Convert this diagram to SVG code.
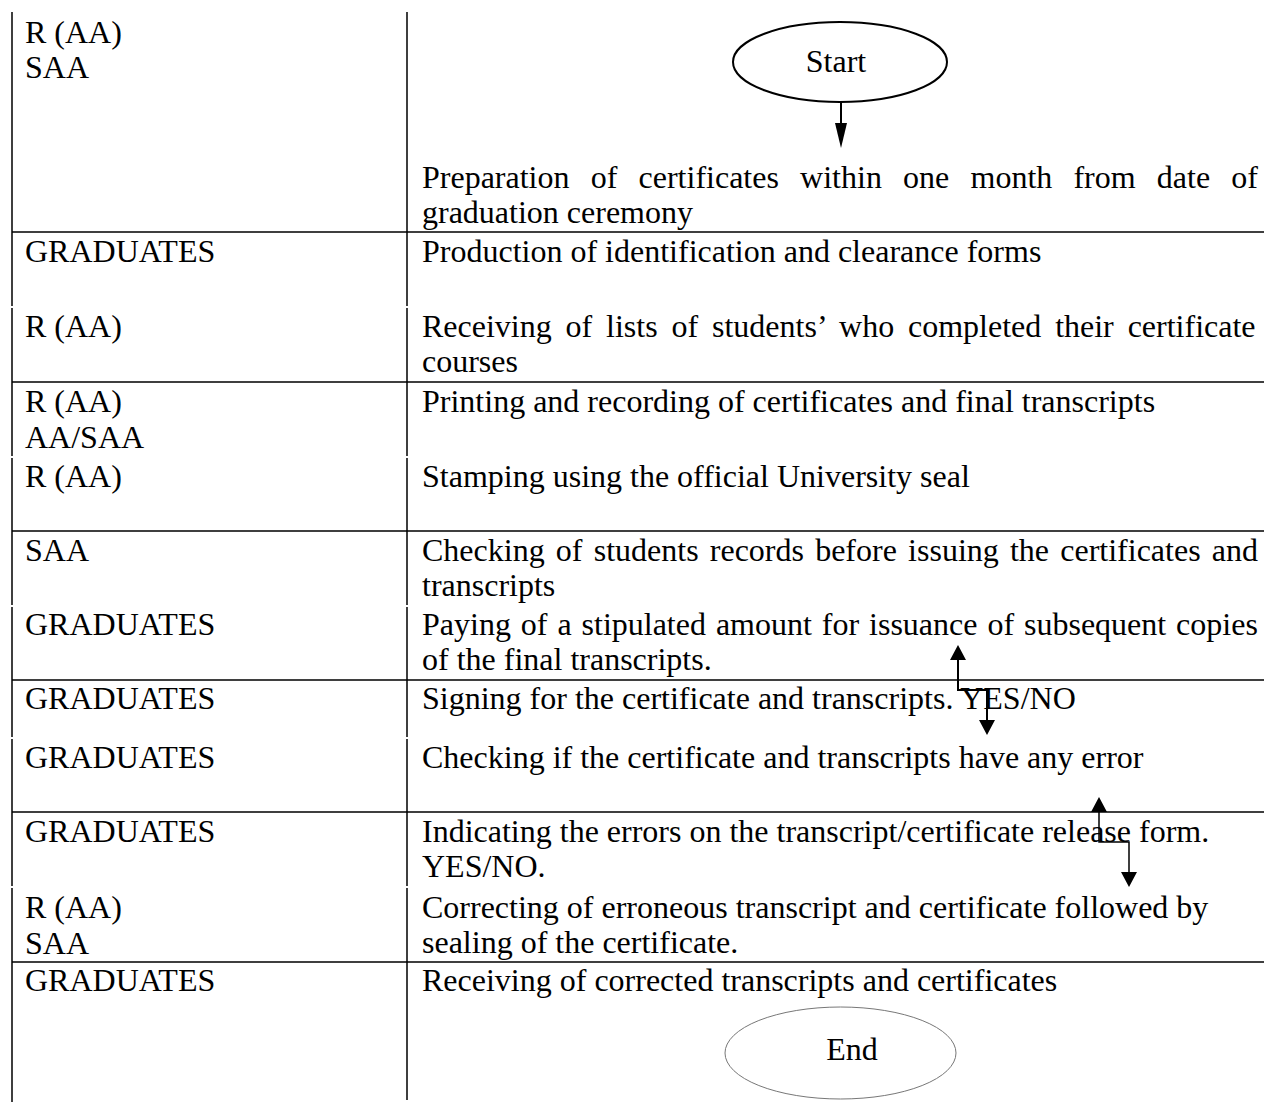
<svg xmlns="http://www.w3.org/2000/svg" width="1264" height="1102" viewBox="0 0 1264 1102">
  <style>
    text { font-family: "Liberation Serif", "Times New Roman", serif; font-size: 32px; fill: #000; }
    .grid { stroke: #000; stroke-width: 1.5; fill: none; }
    .term { fill: #fff; stroke: #000; stroke-width: 2; }
    .term-thin { fill: #fff; stroke: #777; stroke-width: 1; }
    .flow { stroke: #000; stroke-width: 2; fill: none; }
    .c { text-anchor: middle; }
  </style>
  <defs>
    <marker id="head-long" viewBox="0 0 25 12" refX="0" refY="6" markerWidth="25" markerHeight="12" markerUnits="userSpaceOnUse" orient="auto">
      <path d="M0,0 L25,6 L0,12 z" fill="#000"/>
    </marker>
    <marker id="head-wide" viewBox="0 0 15 16" refX="0" refY="8" markerWidth="15" markerHeight="16" markerUnits="userSpaceOnUse" orient="auto-start-reverse">
      <path d="M0,0 L15,8 L0,16 z" fill="#000"/>
    </marker>
  </defs>

  <rect width="1264" height="1102" fill="#fff"/>

  <!-- table rules -->
  <g id="table" class="grid">
    <path d="M12,12 V306 M12,308 V456 M12,458 V605 M12,607 V737 M12,739 V886 M12,888 V1102"/>
    <path d="M407,12 V306 M407,308 V456 M407,458 V605 M407,607 V737 M407,739 V886 M407,888 V1100"/>
    <path d="M12,232 H1264 M12,382 H1264 M12,531 H1264 M12,680 H1264 M12,812 H1264 M12,962 H1264"/>
  </g>

  <!-- terminals -->
  <g id="start">
    <ellipse class="term" cx="840" cy="62" rx="107" ry="40"/>
    <text class="c" x="836" y="72">Start</text>
  </g>
  <g id="end">
    <ellipse class="term-thin" cx="840.5" cy="1053" rx="115.5" ry="46"/>
    <text class="c" x="852" y="1060">End</text>
  </g>

  <!-- process steps -->
  <g id="step-01">
    <text x="25" y="43">R (AA)</text>
    <text x="25" y="78">SAA</text>
    <text x="422" y="188" style="word-spacing:13.2px">Preparation of certificates within one month from date of</text>
    <text x="422" y="223">graduation ceremony</text>
  </g>
  <g id="step-02">
    <text x="25" y="262">GRADUATES</text>
    <text x="422" y="262">Production of identification and clearance forms</text>
  </g>
  <g id="step-03">
    <text x="25" y="337">R (AA)</text>
    <text x="422" y="337" style="word-spacing:5.85px">Receiving of lists of students’ who completed their certificate</text>
    <text x="422" y="372">courses</text>
  </g>
  <g id="step-04">
    <text x="25" y="412">R (AA)</text>
    <text x="25" y="448">AA/SAA</text>
    <text x="422" y="412">Printing and recording of certificates and final transcripts</text>
  </g>
  <g id="step-05">
    <text x="25" y="487">R (AA)</text>
    <text x="422" y="487">Stamping using the official University seal</text>
  </g>
  <g id="step-06">
    <text x="25" y="561">SAA</text>
    <text x="422" y="561" style="word-spacing:3.2px">Checking of students records before issuing the certificates and</text>
    <text x="422" y="596">transcripts</text>
  </g>
  <g id="step-07">
    <text x="25" y="635">GRADUATES</text>
    <text x="422" y="635" style="word-spacing:1.93px">Paying of a stipulated amount for issuance of subsequent copies</text>
    <text x="422" y="670">of the final transcripts.</text>
  </g>
  <g id="step-08">
    <text x="25" y="709">GRADUATES</text>
    <text x="422" y="709">Signing for the certificate and transcripts. YES/NO</text>
  </g>
  <g id="step-09">
    <text x="25" y="768">GRADUATES</text>
    <text x="422" y="768">Checking if the certificate and transcripts have any error</text>
  </g>
  <g id="step-10">
    <text x="25" y="842">GRADUATES</text>
    <text x="422" y="842">Indicating the errors on the transcript/certificate release form.</text>
    <text x="422" y="877">YES/NO.</text>
  </g>
  <g id="step-11">
    <text x="25" y="918">R (AA)</text>
    <text x="25" y="954">SAA</text>
    <text x="422" y="918">Correcting of erroneous transcript and certificate followed by</text>
    <text x="422" y="953">sealing of the certificate.</text>
  </g>
  <g id="step-12">
    <text x="25" y="991">GRADUATES</text>
    <text x="422" y="991">Receiving of corrected transcripts and certificates</text>
  </g>

  <!-- connectors -->
  <g id="connectors" class="flow">
    <path d="M841,103 V123" marker-end="url(#head-long)"/>
    <path d="M958,660 V690 H987 V720" marker-start="url(#head-wide)" marker-end="url(#head-wide)"/>
    <path d="M1099,812 V842 H1129 V872" stroke-width="1.5" marker-start="url(#head-wide)" marker-end="url(#head-wide)"/>
  </g>
</svg>
